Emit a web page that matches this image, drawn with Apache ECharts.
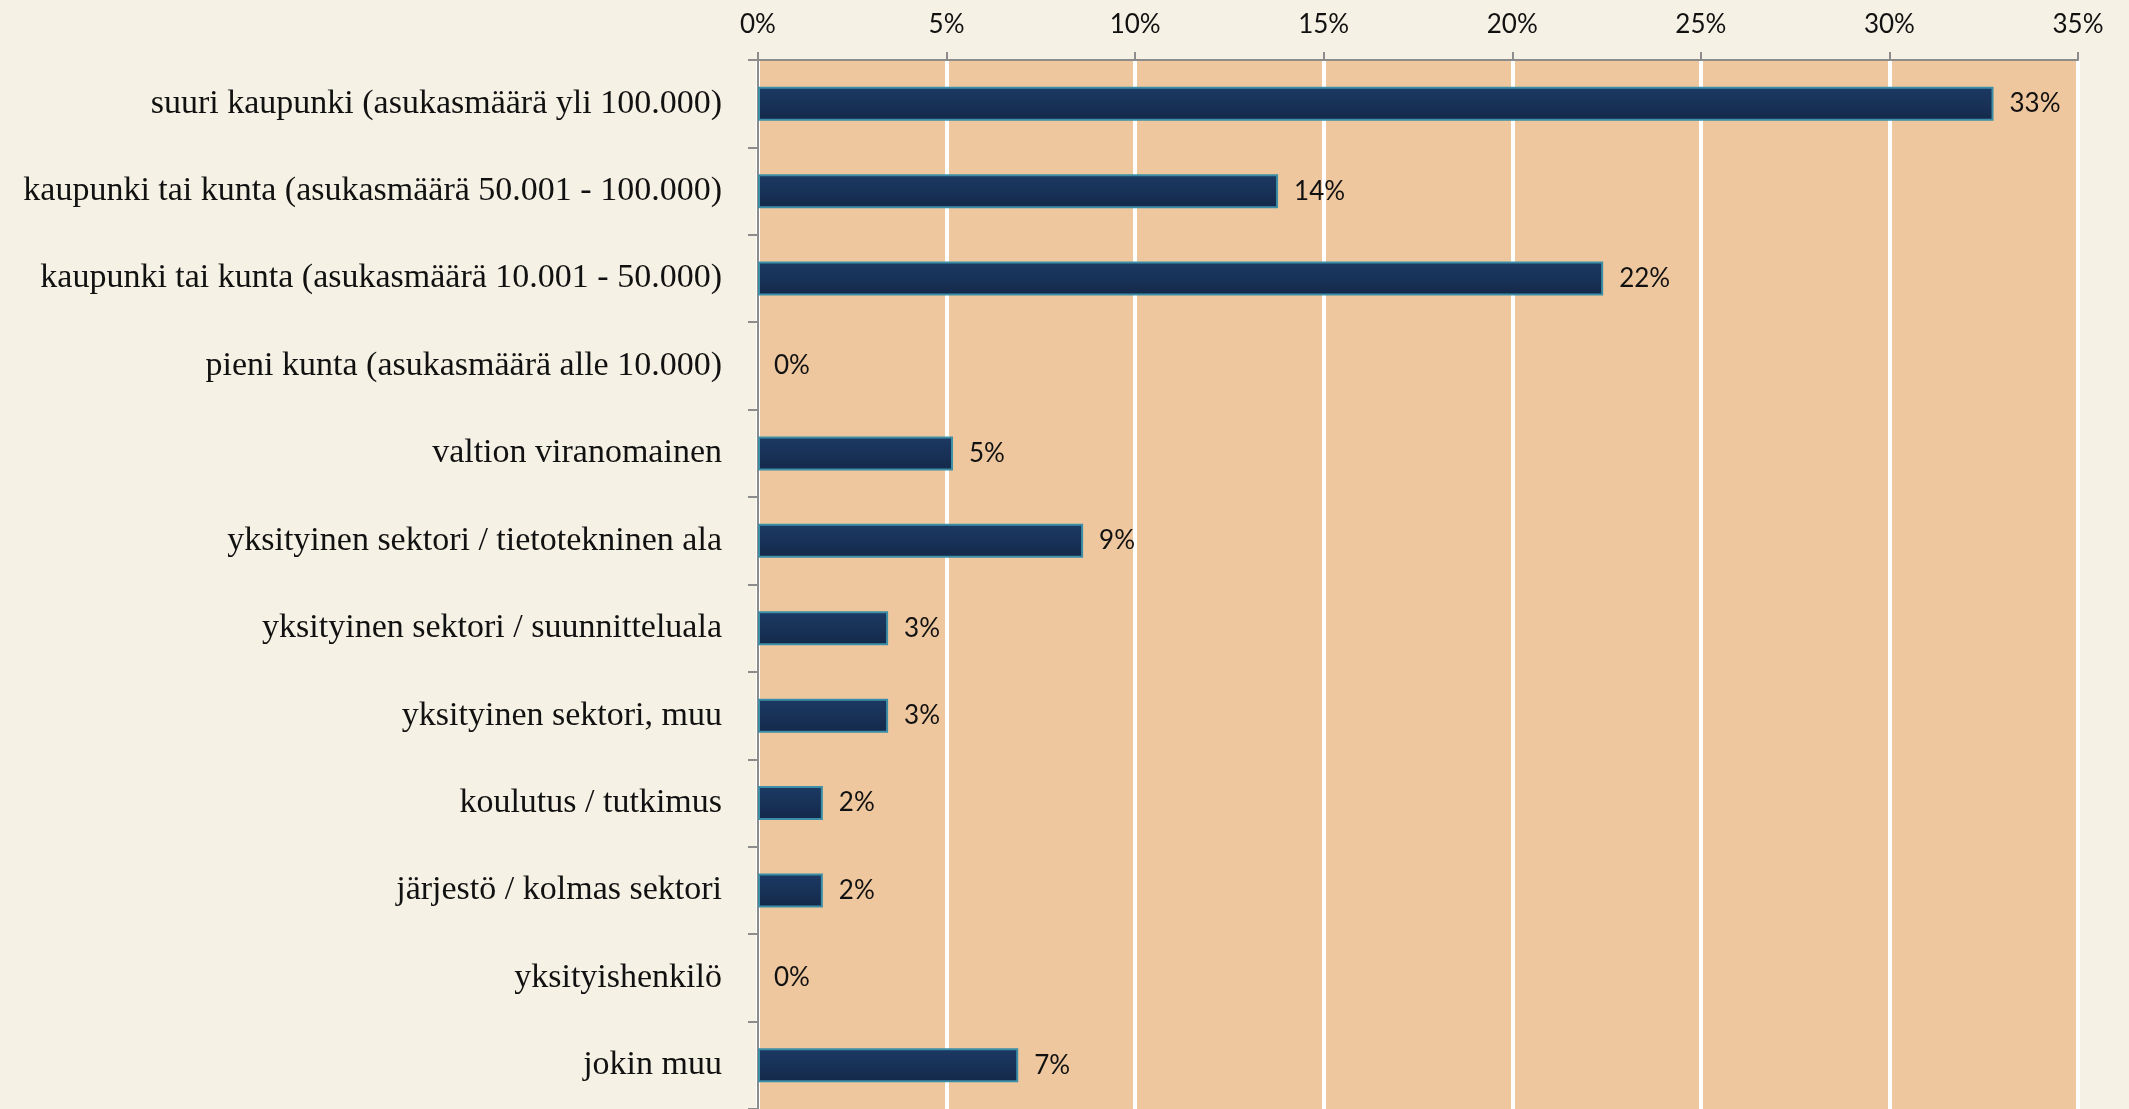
<!DOCTYPE html>
<html>
<head>
<meta charset="utf-8">
<script src="https://cdn.jsdelivr.net/npm/echarts@6/dist/echarts.min.js"></script>
<style>
html,body{margin:0;padding:0;background:#F5F1E4;}
#c{width:2129px;height:1109px;}
</style>
</head>
<body>
<div id="c"></div>
<script>
const categories = [
  'suuri kaupunki (asukasmäärä yli 100.000)',
  'kaupunki tai kunta (asukasmäärä 50.001 - 100.000)',
  'kaupunki tai kunta (asukasmäärä 10.001 - 50.000)',
  'pieni kunta (asukasmäärä alle 10.000)',
  'valtion viranomainen',
  'yksityinen sektori / tietotekninen ala',
  'yksityinen sektori / suunnitteluala',
  'yksityinen sektori, muu',
  'koulutus / tutkimus',
  'järjestö / kolmas sektori',
  'yksityishenkilö',
  'jokin muu'
];
const values = [32.76, 13.79, 22.41, 0, 5.17, 8.62, 3.45, 3.45, 1.72, 1.72, 0, 6.90];
const axisMin = 0, axisMax = 35, axisStep = 5;

const chart = echarts.init(document.getElementById('c'));
chart.setOption({
  backgroundColor: '#F5F1E4',
  animation: false,
  grid: {
    left: 758, top: 60, width: 1320, height: 1051,
    show: true, backgroundColor: '#EEC79E', borderWidth: 0, containLabel: false
  },
  xAxis: {
    type: 'value', position: 'top', min: axisMin, max: axisMax, interval: axisStep,
    axisLine: { show: true, lineStyle: { color: '#8C8C8C', width: 2 } },
    axisTick: { show: true, length: 8, lineStyle: { color: '#8C8C8C', width: 2 } },
    axisLabel: { formatter: '{value}%', fontFamily: 'Lato', fontSize: 26, color: '#111', margin: 22 },
    splitLine: { show: true, lineStyle: { color: '#FFFFFF', width: 4 } }
  },
  yAxis: {
    type: 'category', data: categories, inverse: true,
    axisLine: { show: true, lineStyle: { color: '#8C8C8C', width: 2 } },
    axisTick: { show: true, length: 10, alignWithLabel: false, lineStyle: { color: '#8C8C8C', width: 2 } },
    axisLabel: { fontFamily: 'Liberation Serif', fontSize: 34, color: '#111', margin: 36 }
  },
  series: [{
    type: 'bar',
    data: values.map(v => v === 0 ? { value: v, itemStyle: { borderWidth: 0, color: 'rgba(0,0,0,0)' } } : v),
    barWidth: 34,
    itemStyle: {
      color: new echarts.graphic.LinearGradient(0, 0, 0, 1, [
        { offset: 0, color: '#1C3A64' },
        { offset: 1, color: '#14294A' }
      ]),
      borderColor: '#3C8FA6', borderWidth: 2
    },
    label: {
      show: true, position: 'right', distance: 16,
      formatter: p => Math.round(p.value) + '%',
      fontFamily: 'Lato', fontSize: 26, color: '#111'
    }
  }]
});
</script>
</body>
</html>
